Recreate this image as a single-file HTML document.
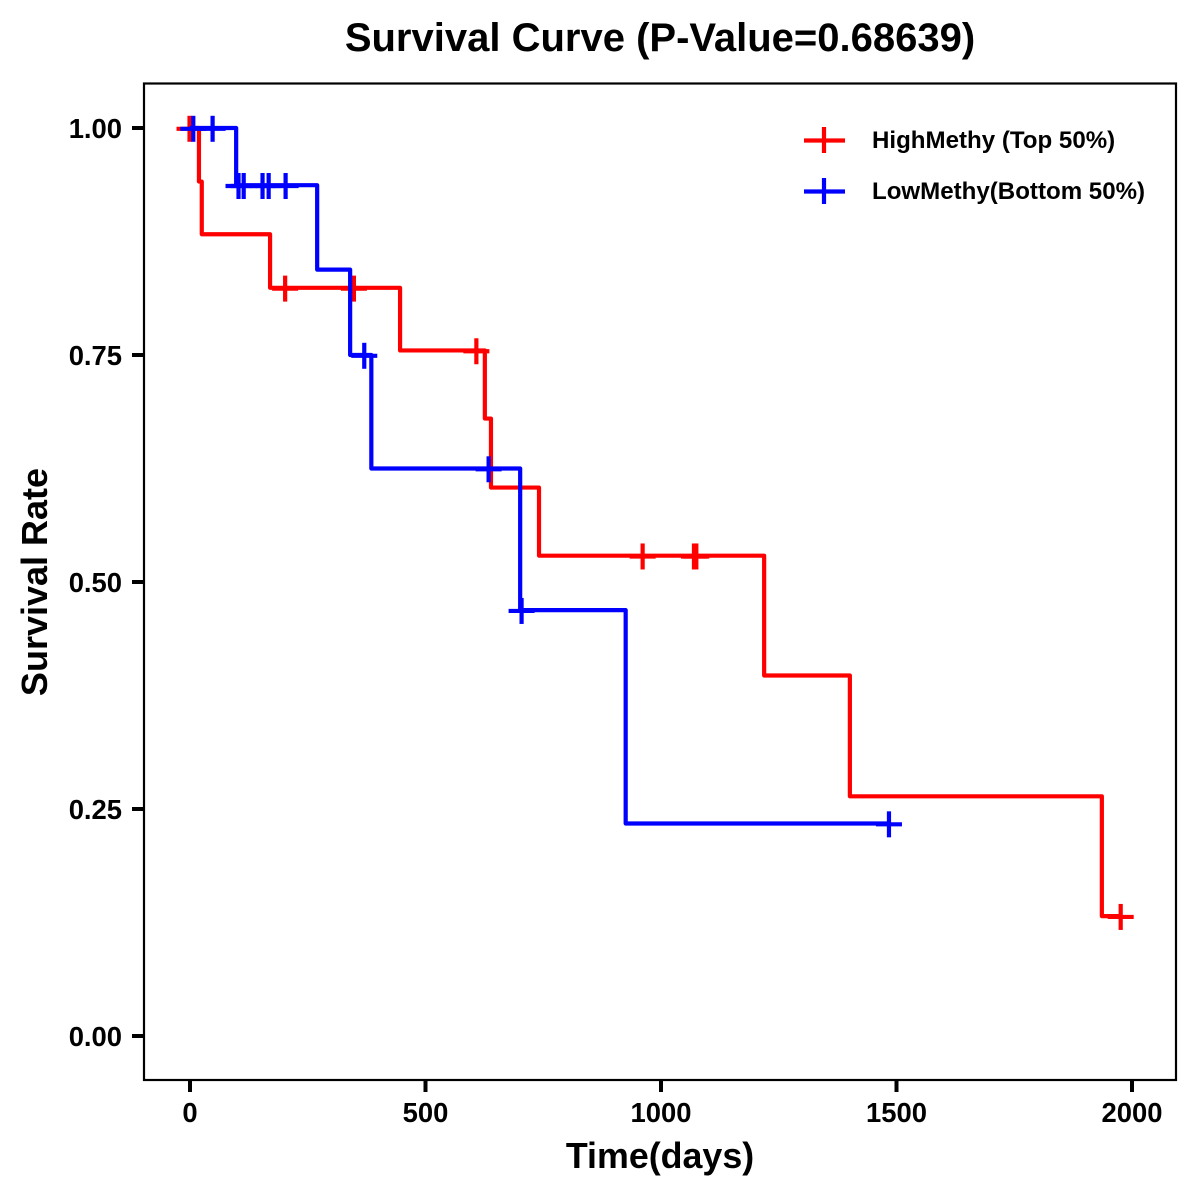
<!DOCTYPE html>
<html lang="en">
<head>
<meta charset="utf-8">
<title>Survival Curve</title>
<style>
html,body{margin:0;padding:0;background:#fff;width:1200px;height:1200px;overflow:hidden}
svg{display:block}
text{font-family:"Liberation Sans",Arial,sans-serif;font-weight:bold;fill:#000}
</style>
</head>
<body>
<svg id="chart" xmlns="http://www.w3.org/2000/svg" width="1200" height="1200" viewBox="0 0 1200 1200">
<rect x="0" y="0" width="1200" height="1200" fill="#fff"/>
<text x="660" y="51" font-size="40" text-anchor="middle">Survival Curve (P-Value=0.68639)</text>
<rect x="144" y="83.5" width="1032" height="996.5" fill="none" stroke="#000" stroke-width="2.2"/>
<g id="x-axis"></g>
<g id="y-axis"></g>
<text x="660" y="1168" font-size="35.8" text-anchor="middle">Time(days)</text>
<text x="47" y="582" font-size="36" text-anchor="middle" transform="rotate(-90 47 582)">Survival Rate</text>
<g id="series"></g>
<g>
<g>
<line x1="804" x2="845" y1="140.5" y2="140.5" stroke="#f00" stroke-width="4.2"/>
<line x1="824" x2="824" y1="127" y2="153" stroke="#f00" stroke-width="4.2"/>
<text x="872" y="148" font-size="24.1">HighMethy (Top 50%)</text>
</g>
<g>
<line x1="804" x2="845" y1="191.5" y2="191.5" stroke="#00f" stroke-width="4.2"/>
<line x1="824" x2="824" y1="178" y2="204" stroke="#00f" stroke-width="4.2"/>
<text x="872" y="199" font-size="24.1">LowMethy(Bottom 50%)</text>
</g>
</g>
</svg>
<script>
var xTicks = [0, 500, 1000, 1500, 2000];
var yTicks = [0, 0.25, 0.5, 0.75, 1];
var yTickLabels = ['0.00', '0.25', '0.50', '0.75', '1.00'];

var highTimes = [0, 19, 25, 170, 446, 626, 639, 741, 1219, 1401, 1936, 1975];
var highSurvival = [1, 0.941, 0.883, 0.824, 0.755, 0.68, 0.604, 0.529, 0.397, 0.264, 0.132, 0.132];
var highCensorTimes = [-1, 202, 348, 608, 961, 1070, 1075, 1976];
var highCensorSurvival = [1, 0.824, 0.824, 0.755, 0.529, 0.529, 0.529, 0.132];

var lowTimes = [0, 98, 270, 340, 385, 701, 925, 1484];
var lowSurvival = [1, 0.937, 0.844, 0.75, 0.625, 0.469, 0.234, 0.234];
var lowCensorTimes = [7, 48, 103, 114, 154, 167, 203, 370, 634, 704, 1484];
var lowCensorSurvival = [1, 1, 0.937, 0.937, 0.937, 0.937, 0.937, 0.75, 0.625, 0.469, 0.234];

var SVG_NS = 'http://www.w3.org/2000/svg';
function xScale(t) { return 190 + t * 0.471; }
function yScale(s) { return 1036 - s * 908; }

function makeLine(x1, y1, x2, y2, color, width) {
  var l = document.createElementNS(SVG_NS, 'line');
  l.setAttribute('x1', x1);
  l.setAttribute('y1', y1);
  l.setAttribute('x2', x2);
  l.setAttribute('y2', y2);
  l.setAttribute('stroke', color);
  l.setAttribute('stroke-width', width);
  return l;
}

var xAxis = document.getElementById('x-axis');
xTicks.forEach(function (v) {
  var px = xScale(v);
  var tick = makeLine(px, 1081, px, 1092, '#000', 4);
  
  
  xAxis.appendChild(tick);
  var label = document.createElementNS(SVG_NS, 'text');
  
  
  label.setAttribute('x', px);
  label.setAttribute('y', 1122);
  label.setAttribute('font-size', '27.4');
  label.setAttribute('text-anchor', 'middle');
  label.textContent = String(v);
  xAxis.appendChild(label);
});

var yAxis = document.getElementById('y-axis');
yTicks.forEach(function (v, i) {
  var py = yScale(v);
  var tick = makeLine(132, py, 143, py, '#000', 4);
  
  
  yAxis.appendChild(tick);
  var label = document.createElementNS(SVG_NS, 'text');
  
  
  label.setAttribute('x', 122);
  label.setAttribute('y', py + 10);
  label.setAttribute('font-size', '27.4');
  label.setAttribute('text-anchor', 'end');
  label.textContent = yTickLabels[i];
  yAxis.appendChild(label);
});

function drawSeries(times, survival, cTimes, cSurvival, color) {
  var g = document.getElementById('series');
  var d = 'M' + xScale(times[0]) + ' ' + yScale(survival[0]);
  for (var i = 1; i < times.length; i++) {
    d += 'H' + xScale(times[i]) + 'V' + yScale(survival[i]);
  }
  var path = document.createElementNS(SVG_NS, 'path');
  
  
  path.setAttribute('d', d);
  path.setAttribute('fill', 'none');
  path.setAttribute('stroke', color);
  path.setAttribute('stroke-width', '4.2');
  path.setAttribute('stroke-linejoin', 'round');
  g.appendChild(path);
  cTimes.forEach(function (t, k) {
    var cx = xScale(t);
    var cy = yScale(cSurvival[k]) + 0.8;
    var h = makeLine(cx - 13, cy, cx + 13, cy, color, 4.2);
    
    
    g.appendChild(h);
    var v = makeLine(cx, cy - 13, cx, cy + 13, color, 4.2);
    
    
    g.appendChild(v);
  });
}

drawSeries(highTimes, highSurvival, highCensorTimes, highCensorSurvival, '#f00');
drawSeries(lowTimes, lowSurvival, lowCensorTimes, lowCensorSurvival, '#00f');
</script>
</body>
</html>
